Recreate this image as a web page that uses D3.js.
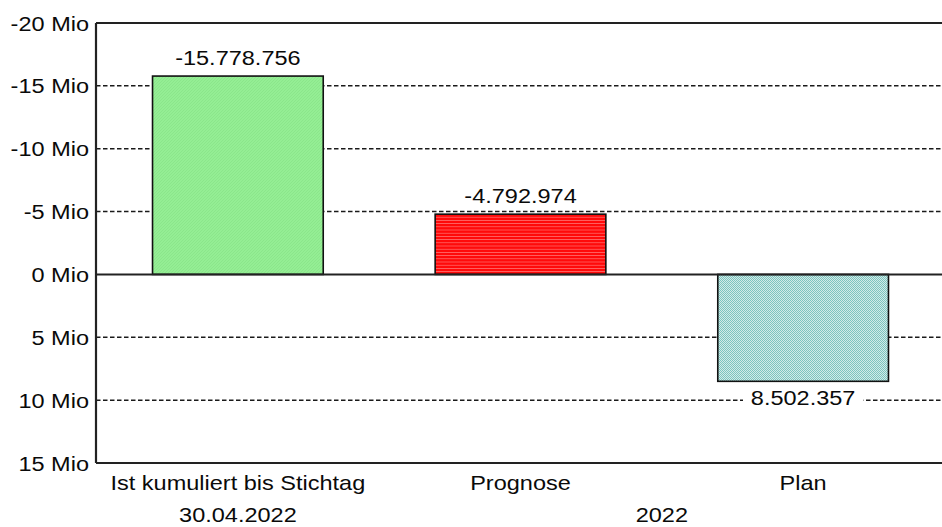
<!DOCTYPE html>
<html>
<head>
<meta charset="utf-8">
<script src="https://cdn.jsdelivr.net/npm/d3@7"></script>
<style>
  html, body { margin: 0; padding: 0; background: #fff; }
  svg { display: block; }
  text { font-family: "Liberation Sans", Arial, sans-serif; fill: #0a0a0a; }
</style>
</head>
<body>
<svg id="chart" width="942" height="527"></svg>
<script>
// ---- data ----
const categories = ["Ist kumuliert bis Stichtag", "Prognose", "Plan"];
const values = [-15778756, -4792974, 8502357];
const barPatterns = ["pGreen", "pRed", "pTeal"];
const tickValues = [-20e6, -15e6, -10e6, -5e6, 0, 5e6, 10e6, 15e6];
const tickLabels = ["-20 Mio", "-15 Mio", "-10 Mio", "-5 Mio", "0 Mio", "5 Mio", "10 Mio", "15 Mio"];
const groupLabels = ["30.04.2022", "2022"];
const groupSpans = [[0, 0], [1, 2]];

// ---- layout ----
const W = 942, H = 527;
const mLeft = 96, mTop = 23, mBottom = 463, plotRight = 945;
const FS = 21, SX = 1.12;

const svg = d3.select("#chart");
const defs = svg.append("defs");

// patterns
const pg = defs.append("pattern").attr("id", "pGreen").attr("patternUnits", "userSpaceOnUse").attr("width", 3).attr("height", 3);
pg.append("rect").attr("width", 3).attr("height", 3).attr("fill", "#94ee94");
pg.append("path").attr("d", "M0,3 L3,0").attr("stroke", "#84e084").attr("stroke-width", 0.6);

const pr = defs.append("pattern").attr("id", "pRed").attr("patternUnits", "userSpaceOnUse").attr("width", 4).attr("height", 3.2);
pr.append("rect").attr("width", 4).attr("height", 3.2).attr("fill", "#ff0a0a");
pr.append("rect").attr("y", 2.6).attr("width", 4).attr("height", 0.6).attr("fill", "#ff8a8a");

const pt = defs.append("pattern").attr("id", "pTeal").attr("patternUnits", "userSpaceOnUse").attr("width", 2).attr("height", 2);
pt.append("rect").attr("width", 2).attr("height", 2).attr("fill", "#d2ebe8");
pt.append("rect").attr("width", 1).attr("height", 1).attr("fill", "#7cc4bf");
pt.append("rect").attr("x", 1).attr("y", 1).attr("width", 1).attr("height", 1).attr("fill", "#7cc4bf");

// scales
const y = d3.scaleLinear().domain([-20e6, 15e6]).range([mTop, mBottom]);
const x = d3.scaleBand().domain(categories).range([mLeft, plotRight]).paddingInner(0.396).paddingOuter(0.2);

const fmt = d3.formatLocale({ decimal: ",", thousands: ".", grouping: [3], currency: ["", "€"], minus: "-" }).format(",d");

// helper: horizontally stretched text
function sText(parent, tx, ty, str, anchor, bg) {
  const g = parent.append("g").attr("transform", `translate(${tx},${ty}) scale(${SX},1)`);
  const t = g.append("text").attr("text-anchor", anchor).attr("font-size", FS).text(str);
  if (bg) {
    const b = t.node().getBBox();
    g.insert("rect", "text").attr("x", b.x - 7).attr("y", b.y - 1).attr("width", b.width + 14).attr("height", b.height + 2).attr("fill", "#fff");
  }
  return g;
}

// gridlines
const grid = svg.append("g");
grid.selectAll("line").data(tickValues.filter(v => v !== 0 && v !== -20e6 && v !== 15e6)).join("line")
  .attr("x1", mLeft).attr("x2", W).attr("y1", d => y(d)).attr("y2", d => y(d))
  .attr("stroke", "#1a1a1a").attr("stroke-width", 1.5).attr("stroke-dasharray", "4.5,2.5");

// bars
svg.append("g").selectAll("rect").data(values).join("rect")
  .attr("x", (d, i) => x(categories[i]))
  .attr("width", x.bandwidth())
  .attr("y", d => y(Math.min(d, 0)))
  .attr("height", d => Math.abs(y(d) - y(0)))
  .attr("fill", (d, i) => `url(#${barPatterns[i]})`)
  .attr("stroke", "#111").attr("stroke-width", 1.6);

// frame + zero line
svg.append("line").attr("x1", mLeft).attr("x2", W).attr("y1", y(-20e6)).attr("y2", y(-20e6)).attr("stroke", "#222").attr("stroke-width", 2.2);
svg.append("line").attr("x1", mLeft).attr("x2", W).attr("y1", y(15e6)).attr("y2", y(15e6)).attr("stroke", "#222").attr("stroke-width", 2.2);
svg.append("line").attr("x1", mLeft).attr("x2", W).attr("y1", y(0)).attr("y2", y(0)).attr("stroke", "#222").attr("stroke-width", 2);
svg.append("line").attr("x1", mLeft).attr("x2", mLeft).attr("y1", y(-20e6)).attr("y2", y(15e6)).attr("stroke", "#222").attr("stroke-width", 2.2);

// y tick labels
const yl = svg.append("g");
tickValues.forEach((v, i) => sText(yl, 89, y(v) + 7.5, tickLabels[i], "end", false));

// value labels
const vl = svg.append("g");
values.forEach((v, i) => {
  const cx = x(categories[i]) + x.bandwidth() / 2;
  const ty = v < 0 ? y(v) - 11 : y(v) + 24;
  sText(vl, cx, ty, fmt(v), "middle", true);
});

// category labels
const cl = svg.append("g");
categories.forEach(c => sText(cl, x(c) + x.bandwidth() / 2, 490, c, "middle", false));

// group labels
groupLabels.forEach((g, i) => {
  const a = x(categories[groupSpans[i][0]]) + x.bandwidth() / 2;
  const b = x(categories[groupSpans[i][1]]) + x.bandwidth() / 2;
  sText(cl, (a + b) / 2, 522, g, "middle", false);
});
</script>
</body>
</html>
